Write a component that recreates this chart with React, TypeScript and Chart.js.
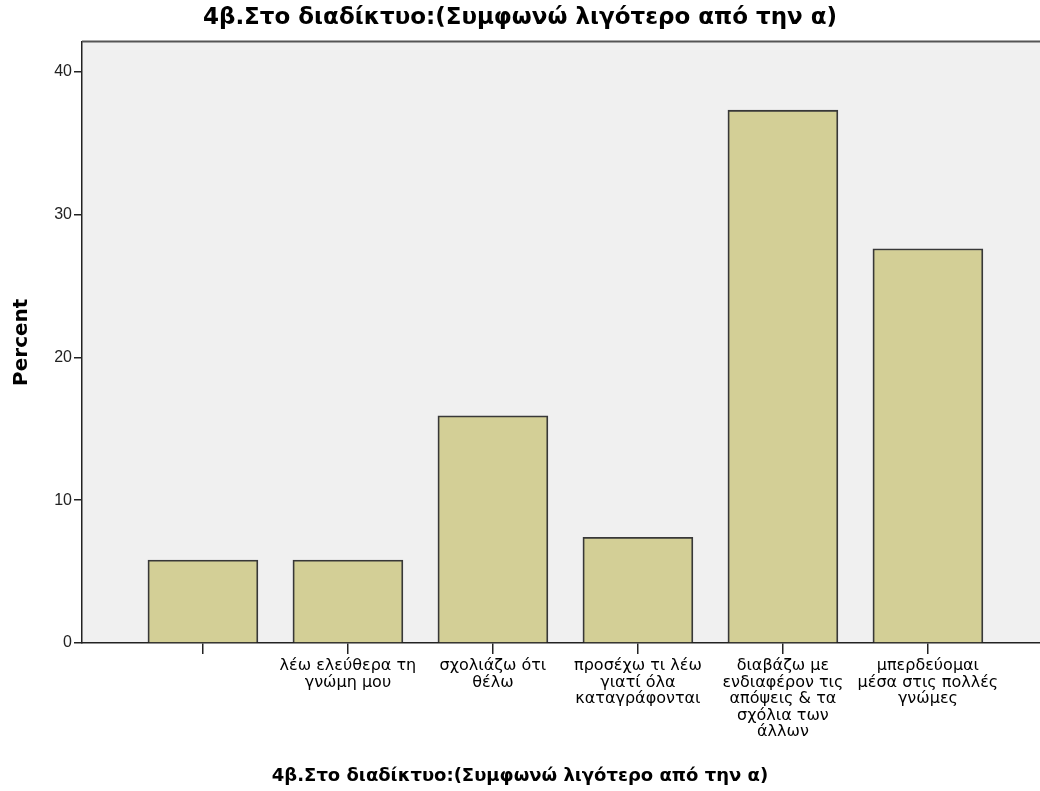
import React, { useEffect, useRef } from "react";
import { Chart, registerables } from "chart.js";

Chart.register(...registerables);

const chartTitle = "4β.Στο διαδίκτυο:(Συμφωνώ λιγότερο από την α)";
const xAxisTitle = "4β.Στο διαδίκτυο:(Συμφωνώ λιγότερο από την α)";
const yAxisTitle = "Percent";

const categories: string[][] = [
  [""],
  ["λέω ελεύθερα τη", "γνώμη μου"],
  ["σχολιάζω ότι", "θέλω"],
  ["προσέχω τι λέω", "γιατί όλα", "καταγράφονται"],
  ["διαβάζω με", "ενδιαφέρον τις", "απόψεις & τα", "σχόλια των", "άλλων"],
  ["μπερδεύομαι", "μέσα στις πολλές", "γνώμες"],
];
const positions = [1, 2, 3, 4, 5, 6];
const percentValues = [5.8, 5.8, 15.9, 7.4, 37.3, 27.6];
const yTicks = [0, 10, 20, 30, 40];

const plotBg = {
  id: "plotBg",
  beforeDraw(chart: any) {
    const { ctx, chartArea } = chart;
    ctx.save();
    ctx.fillStyle = "#F0F0F0";
    ctx.fillRect(chartArea.left, chartArea.top, chartArea.right - chartArea.left, chartArea.bottom - chartArea.top);
    ctx.restore();
  },
  afterDraw(chart: any) {
    const { ctx, chartArea } = chart;
    ctx.save();
    ctx.strokeStyle = "#555555";
    ctx.lineWidth = 2;
    ctx.beginPath();
    ctx.moveTo(chartArea.left, chartArea.top);
    ctx.lineTo(chartArea.right, chartArea.top);
    ctx.stroke();
    ctx.restore();
  },
};

export default function App() {
  const ref = useRef<HTMLCanvasElement | null>(null);
  useEffect(() => {
    document.body.style.margin = "0";
    const canvas = ref.current!;
    const chart = new Chart(canvas, {
      type: "bar",
      data: {
        datasets: [
          {
            data: positions.map((x, i) => ({ x, y: percentValues[i] })),
            backgroundColor: "#D3CF96",
            borderColor: "#383838",
            borderWidth: 1.8,
            barThickness: 110,
          },
        ],
      },
      plugins: [plotBg],
      options: {
        animation: false,
        responsive: false,
        layout: { padding: 0 },
        plugins: {
          legend: { display: false },
          tooltip: { enabled: false },
          title: {
            display: true,
            text: chartTitle,
            color: "#000",
            font: { family: '"DejaVu Sans"', size: 23, weight: "bold", lineHeight: 1.2 },
            padding: { top: 4, bottom: 10 },
          },
          subtitle: {
            display: true,
            position: "bottom",
            text: xAxisTitle,
            color: "#000",
            font: { family: '"DejaVu Sans"', size: 18, weight: "bold", lineHeight: 1.2 },
            padding: { top: 4, bottom: 4 },
          },
        },
        scales: {
          x: {
            type: "linear",
            offset: false,
            min: 0.166,
            max: 6.773,
            afterBuildTicks(scale: any) {
              scale.ticks = positions.map((v) => ({ value: v }));
            },
            afterFit(scale: any) {
              scale.height = 118.4;
            },
            ticks: {
              autoSkip: false,
              maxRotation: 0,
              color: "#000",
              padding: 4,
              font: { family: '"DejaVu Sans"', size: 16, lineHeight: 1.03 },
              callback: (_v: any, i: number) => categories[i],
            },
            grid: { offset: false, drawOnChartArea: false, drawTicks: true, tickLength: 11, color: "#222", lineWidth: 1.5 },
            border: { display: true, color: "#222", width: 1.5 },
          },
          y: {
            min: 0,
            max: 42.1,
            afterBuildTicks(scale: any) {
              scale.ticks = yTicks.map((v) => ({ value: v }));
            },
            afterFit(scale: any) {
              scale.width = 82;
            },
            ticks: {
              color: "#222",
              padding: 2,
              font: { family: '"Liberation Sans"', size: 16 },
            },
            grid: { drawOnChartArea: false, drawTicks: true, tickLength: 8, color: "#222", lineWidth: 1.5 },
            border: { display: true, color: "#222", width: 1.5 },
            title: {
              display: true,
              text: yAxisTitle,
              color: "#000",
              font: { family: '"DejaVu Sans"', size: 20, weight: "bold" },
              padding: { top: 10, bottom: 0 },
            },
          },
        },
      },
    } as any);
    return () => chart.destroy();
  }, []);
  return <canvas ref={ref} width={1040} height={791} style={{ display: "block" }} />;
}
